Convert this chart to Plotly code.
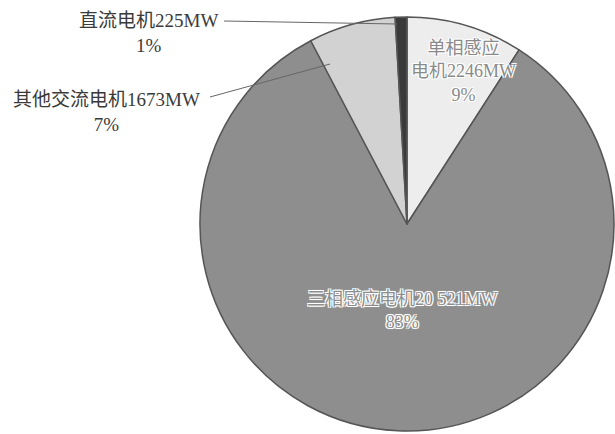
import plotly.graph_objects as go

labels = ["单相感应电机", "三相感应电机", "其他交流电机", "直流电机"]
values = [2246, 20521, 1673, 225]
value_text = ["2246MW", "20 521MW", "1673MW", "225MW"]
percent_text = ["9%", "83%", "7%", "1%"]
colors = ["#ededed", "#8e8e8e", "#d2d2d2", "#3a3a3a"]

W, H = 615, 434
cx, cy, r = 407, 224, 207

fig = go.Figure(go.Pie(
    labels=labels, values=values, sort=False, direction="clockwise", rotation=0,
    marker=dict(colors=colors, line=dict(color="#555555", width=1.5)),
    textinfo="none", hoverinfo="label+value+percent", showlegend=False,
    domain=dict(x=[(cx - r) / W, (cx + r) / W], y=[(H - cy - r) / H, (H - cy + r) / H]),
))

serif = "Liberation Serif, Noto Sans CJK SC, serif"
halo = "-1px -1px 0 #fff, 1px -1px 0 #fff, -1px 1px 0 #fff, 1px 1px 0 #fff, 0 0 2px #fff"

def px(x):
    return x / W

def py(y):
    return 1 - y / H

anns = []
# outside labels
anns.append(dict(x=px(148), y=py(33), text=labels[3] + value_text[3] + "<br>" + percent_text[3],
                 font=dict(family=serif, size=19, color="#3a3a3a")))
anns.append(dict(x=px(106), y=py(112), text=labels[2] + value_text[2] + "<br>" + percent_text[2],
                 font=dict(family=serif, size=19, color="#3a3a3a")))
# inside labels
anns.append(dict(x=px(463), y=py(72), text="单相感应<br>电机" + value_text[0] + "<br>" + percent_text[0],
                 font=dict(family=serif, size=18, color="#8a8a8a", shadow=halo)))
anns.append(dict(x=px(402), y=py(310), text=labels[1] + value_text[1] + "<br>" + percent_text[1],
                 font=dict(family=serif, size=18, color="#8e8e8e", shadow=halo)))
for a in anns:
    a.update(xref="paper", yref="paper", showarrow=False, xanchor="center", yanchor="middle")

fig.update_layout(
    width=W, height=H, margin=dict(l=0, r=0, t=0, b=0),
    paper_bgcolor="white", plot_bgcolor="white",
    annotations=anns,
    shapes=[
        dict(type="line", xref="paper", yref="paper", x0=px(224), y0=py(21), x1=px(397), y1=py(24),
             line=dict(color="#666", width=1)),
        dict(type="line", xref="paper", yref="paper", x0=px(210), y0=py(97), x1=px(330), y1=py(64),
             line=dict(color="#666", width=1)),
    ],
)

fig.write_html("out.html")
